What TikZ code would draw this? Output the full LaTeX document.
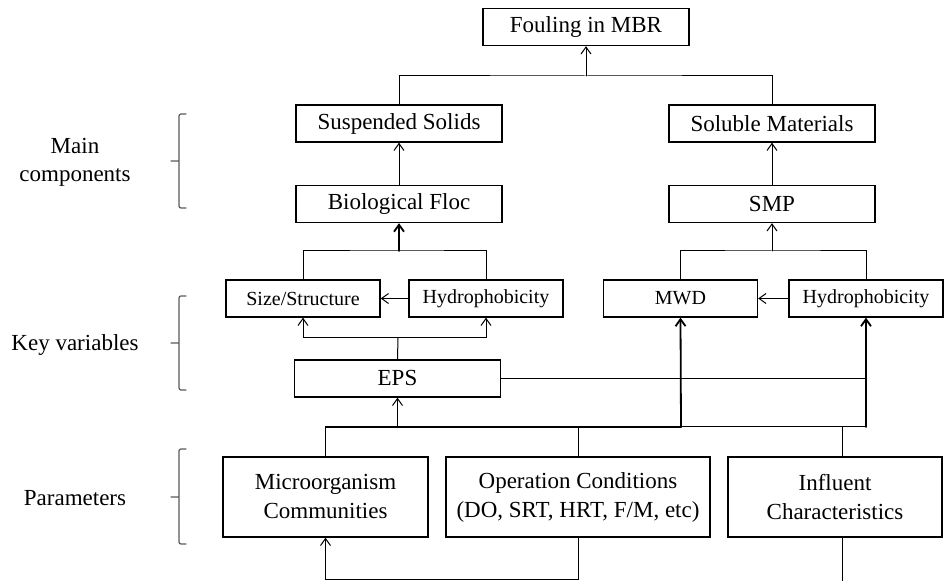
\documentclass[tikz,border=0pt]{standalone}
\usepackage{fontspec}
\setmainfont{Liberation Serif}
\usetikzlibrary{arrows.meta, calc}

\begin{document}
\begin{tikzpicture}[x=0.5pt, y=-0.5pt, line cap=round,
	box/.style={draw, line width=0.7pt, inner sep=0pt, align=center, font=\fontsize{11.5}{14.5}\selectfont},
	wide/.style={box, minimum width=103pt, minimum height=18.5pt},
	keyvar/.style={box, minimum width=77pt, minimum height=18.5pt, font=\fontsize{10}{12}\selectfont},
	param/.style={box, minimum height=40pt},
	conn/.style={line width=0.5pt},
	heavy/.style={line width=0.9pt},
	arr/.style={-{Straight Barb[length=3.5pt,width=5pt]}},
	brace/.style={gray!70!black, line width=0.6pt, rounded corners=1pt},
	lab/.style={align=center, font=\fontsize{11.5}{14}\selectfont}]
	\useasboundingbox (0,0) rectangle (944,581);

	%livelli a sinistra
	\node[lab] (mainlab) at (75,162) {Main\\components};
	\node[lab] (keylab) at (75,345) {Key variables};
	\node[lab] (parlab) at (75,498) {Parameters};
	\draw[brace] (186,114) -- (179,114) -- (179,208) -- (186,208) (179,161) -- (171,161);
	\draw[brace] (186,296) -- (179,296) -- (179,390) -- (186,390) (179,343) -- (171,343);
	\draw[brace] (186,449) -- (179,449) -- (179,544) -- (186,544) (179,497) -- (171,497);

	%riquadri
	\node[wide] (fouling) at (586,27) {Fouling in MBR};
	\node[wide] (susp) at (399,123.5) {Suspended Solids};
	\node[wide] (sol) at (772,123.5) {Soluble Materials};
	\node[wide] (floc) at (399,204) {Biological Floc};
	\node[wide] (smp) at (772,204) {SMP};
	\node[keyvar] (size) at (303,298.5) {Size/Structure};
	\node[keyvar] (hydroL) at (486,298.5) {Hydrophobicity};
	\node[keyvar] (mwd) at (680.5,298.5) {MWD};
	\node[keyvar] (hydroR) at (866,298.5) {Hydrophobicity};
	\node[wide] (eps) at (397.5,378.5) {EPS};
	\node[param, minimum width=102.5pt] (micro) at (325.5,497) {Microorganism\\Communities};
	\node[param, minimum width=132pt] (oper) at (578,497) {Operation Conditions\\(DO, SRT, HRT, F/M, etc)};
	\node[param, minimum width=107pt] (infl) at (835,497) {Influent\\Characteristics};

	%punti di giunzione
	\coordinate (top) at (586,76);
	\coordinate (flocj) at (399,251);
	\coordinate (smpj) at (772,251);
	\coordinate (epsj) at (398,338);
	\coordinate (mwdj) at (681,427);
	\coordinate (loop) at (578,580);
	\coordinate (inbot) at (842,584);

	%parte alta
	\draw[conn] (susp.north) |- (top) -| (sol.north);
	\draw[conn,arr] (top) -- (fouling.south);
	\draw[conn,arr] (floc.north) -- (susp.south);
	\draw[conn,arr] (smp.north) -- (sol.south);

	%variabili chiave
	\draw[conn] (size.north) |- (flocj) -| (hydroL.north);
	\draw[heavy,arr] (flocj) -- (floc.south);
	\draw[conn] (mwd.north) |- (smpj) -| (hydroR.north);
	\draw[conn,arr] (smpj) -- (smp.south);
	\draw[conn,arr] (hydroL.west) -- (size.east);
	\draw[conn,arr] (hydroR.west) -- (mwd.east);

	%EPS
	\draw[conn] (eps.north) -- (epsj);
	\draw[conn,arr] (epsj) -| (size.south);
	\draw[conn,arr] (epsj) -| (hydroL.south);
	\draw[heavy] (eps.east) -- (eps.east -| mwdj);
	\draw[conn] (eps.east -| mwdj) -- (eps.east -| hydroR.south);

	%parametri
	\draw[heavy] (micro.north) |- (mwdj);
	\draw[heavy,arr] (mwdj) -- (mwd.south);
	\draw[conn] (mwdj) -- (hydroR.south |- mwdj);
	\draw[heavy,arr] (hydroR.south |- mwdj) -- (hydroR.south);
	\draw[conn,arr] (eps.south |- mwdj) -- (eps.south);
	\draw[conn] (oper.north) -- (oper.north |- mwdj);
	\draw[conn] ([xshift=3.5pt]infl.north) -- ([xshift=3.5pt]infl.north |- mwdj);

	%ritorno in basso
	\draw[conn,arr] (oper.south) -- (loop) -| (micro.south);
	\draw[conn] ([xshift=3.5pt]infl.south) -- (inbot);
\end{tikzpicture}
\end{document}
